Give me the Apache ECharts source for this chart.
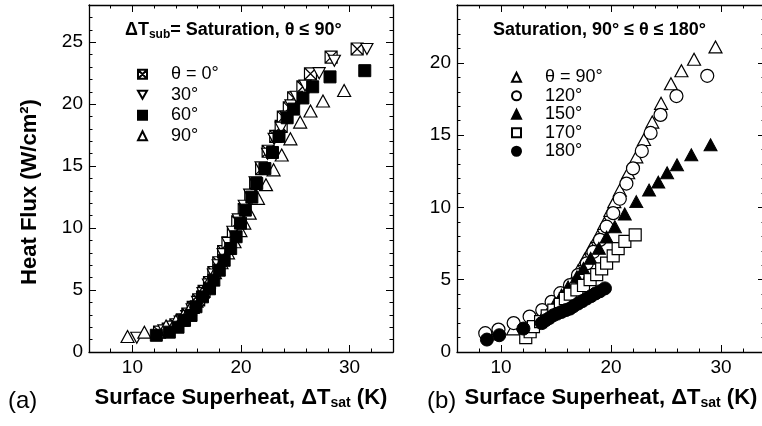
<!DOCTYPE html>
<html>
<head>
<meta charset="utf-8">
<script src="https://cdn.jsdelivr.net/npm/echarts@6/dist/echarts.min.js"></script>
<style>
  html, body { margin: 0; background: #fff; }
  #chart { width: 762px; height: 426px; }
</style>
</head>
<body>
<div id="chart"></div>
<script>
// (a) saturated, theta <= 90 deg  -- [superheat K, heat flux W/cm2]
const a0 = [[12.5,1.6],[13.3,1.85],[14.0,2.2],[14.6,2.6],[15.1,3.05],[15.6,3.6],[16.1,4.2],[16.6,4.9],[17.1,5.6],[17.5,6.4],[17.95,7.2],[18.4,8.1],[18.8,8.8],[19.3,9.5],[19.7,10.5],[20.3,11.5],[20.9,12.6],[21.35,13.6],[21.9,14.8],[22.5,16.2],[23.2,17.4],[23.7,18.2],[23.9,18.95],[24.45,19.7],[24.85,20.5],[25.7,21.4],[26.4,22.45],[28.3,23.8],[30.7,24.45]];
const a30 = [[10.4,1.15],[12.9,1.75],[13.7,2.05],[14.4,2.45],[15.0,2.9],[15.5,3.45],[16.0,4.05],[16.5,4.75],[17.0,5.45],[17.45,6.25],[17.9,7.0],[18.35,7.9],[18.8,8.8],[19.25,9.7],[19.75,10.7],[20.3,11.8],[20.8,12.7],[21.3,13.7],[21.85,14.9],[22.45,16.0],[23.05,17.2],[23.7,18.1],[24.15,19.0],[24.6,19.9],[25.1,20.6],[25.9,21.5],[27.2,22.5],[28.6,23.5],[31.6,24.45]];
const a60 = [[12.2,1.35],[13.4,1.6],[14.2,2.0],[14.8,2.55],[15.4,2.95],[15.85,3.65],[16.45,4.45],[17.1,5.1],[17.5,5.8],[18.0,6.6],[18.45,7.4],[19.05,8.35],[19.55,9.3],[19.95,10.4],[20.4,11.45],[21.0,12.5],[21.45,13.6],[22.2,14.8],[22.9,16.1],[23.5,17.4],[24.25,18.9],[24.85,19.6],[25.7,20.5],[26.6,21.4],[28.2,22.2],[31.4,22.7]];
// 90 deg run, plotted in both panels
const a90 = [[9.55,1.25],[11.1,1.6],[13.1,2.1],[14.0,2.5],[14.7,2.95],[15.3,3.5],[15.9,4.1],[16.45,4.8],[17.0,5.6],[17.6,6.4],[18.2,7.2],[18.8,8.0],[19.4,8.9],[19.95,9.8],[20.3,10.4],[20.8,11.2],[21.56,12.4],[22.3,13.5],[23.0,14.7],[23.75,15.9],[24.55,17.2],[25.45,18.55],[26.4,19.45],[27.55,20.25],[29.5,21.1]];

// (b) saturated, 90 <= theta <= 180 deg
const b120 = [[8.57,1.3],[9.77,1.55],[11.15,2.0],[12.6,2.45],[13.75,2.9],[14.6,3.47],[15.4,4.07],[16.27,4.63],[17.0,5.32],[17.8,6.13],[18.4,6.93],[19.0,7.75],[19.6,8.67],[20.2,9.6],[20.8,10.6],[21.4,11.65],[22.0,12.7],[22.8,13.9],[23.6,15.15],[24.5,16.4],[25.95,17.7],[28.75,19.1]];
const b150 = [[13.7,2.3],[14.3,2.77],[14.9,3.35],[15.5,3.93],[16.1,4.5],[16.9,5.2],[17.5,5.78],[18.15,6.48],[18.9,7.17],[19.6,7.95],[20.35,8.67],[21.25,9.55],[22.3,10.4],[23.46,11.2],[24.3,11.75],[25.1,12.4],[26.0,12.95],[27.3,13.64],[29.05,14.33]];
const b170 = [[12.25,1.0],[12.65,1.4],[12.95,1.75],[13.6,2.1],[14.2,2.5],[14.8,2.9],[15.4,3.3],[15.85,3.7],[16.3,4.0],[16.9,4.3],[17.5,4.6],[18.1,5.0],[18.7,5.35],[19.15,5.75],[19.6,6.15],[20.2,6.65],[20.65,7.15],[21.26,7.65],[22.2,8.1]];
const b180 = [[8.72,0.86],[9.84,1.16],[12.04,1.62],[13.7,2.0],[14.07,2.2],[14.4,2.35],[14.76,2.54],[15.1,2.65],[15.5,2.77],[15.9,2.9],[16.27,3.0],[16.6,3.17],[17.0,3.35],[17.4,3.52],[17.8,3.7],[18.2,3.87],[18.6,4.05],[19.0,4.2],[19.45,4.4]];

const xTicks = [10, 20, 30];
const yTicksA = [0, 5, 10, 15, 20, 25];
const yTicksB = [0, 5, 10, 15, 20];
const legendA = ['θ = 0°', '30°', '60°', '90°'];
const legendB = ['θ = 90°', '120°', '150°', '170°', '180°'];

const FONT = '"Liberation Sans",Arial,sans-serif';
const xName = 'Surface Superheat, ΔT{sub|sat} (K)';

// four axes per side: minor ticks + major ticks/labels, mirrored on the far side
function axisSet(dim, grid, min, max, step, ticks, extra) {
  const near = dim === 'x' ? 'bottom' : 'left';
  const far = dim === 'x' ? 'top' : 'right';
  const base = {
    type: 'value', gridIndex: grid, min: min, max: max, interval: step,
    splitLine: { show: false },
    axisLine: { onZero: false, lineStyle: { color: '#000', width: 1.3 } }
  };
  const minor = pos => Object.assign({}, base, {
    position: pos,
    axisTick: { inside: true, length: 3.5, lineStyle: { color: '#000' } },
    axisLabel: { show: false }
  });
  const major = (pos, lab) => Object.assign({}, base, {
    position: pos,
    axisLine: { show: false, onZero: false },
    axisTick: { inside: true, length: 7, customValues: ticks, lineStyle: { color: '#000' } },
    axisLabel: { show: lab, customValues: ticks, color: '#000', fontFamily: FONT, fontSize: 19, margin: 6 }
  });
  const first = Object.assign(minor(near), extra || {});
  return [first, major(near, true), minor(far), major(far, false)];
}

const nameStyle = {
  color: '#000', fontFamily: FONT, fontWeight: 'bold', fontSize: 22, lineHeight: 24,
  rich: { sub: { fontFamily: FONT, fontWeight: 'bold', fontSize: 14, lineHeight: 14, padding: [11, 0, 0, 0] } }
};
const xNameOpts = { name: xName, nameLocation: 'middle', nameGap: 34, nameTextStyle: nameStyle };

const hollow = { color: '#fff', borderColor: '#000', borderWidth: 1.2, opacity: 1 };
const solid = { color: '#000', borderColor: '#000', borderWidth: 1, opacity: 1 };
const boxX = 'path://M0,0H10V10H0Z M0,0L10,10 M10,0L0,10';
const triDown = 'path://M0,0L10,0L5,8.7Z';

function scatter(name, data, grid, symbol, size, style) {
  return {
    type: 'scatter', name: name, data: data,
    xAxisIndex: grid * 4, yAxisIndex: grid * 4,
    symbol: symbol, symbolSize: size, itemStyle: style,
    emphasis: { disabled: true }
  };
}

function legend(names, left, top, rowH) {
  return {
    data: names, orient: 'vertical', left: left, top: top,
    itemWidth: 9, itemHeight: 9, itemGap: 0, selectedMode: false,
    formatter: n => '{g| }' + n,
    textStyle: { color: '#000', fontFamily: FONT, fontSize: 18, lineHeight: rowH, rich: { g: { width: 19 } } }
  };
}

const chart = echarts.init(document.getElementById('chart'), null, { renderer: 'canvas' });
chart.setOption({
  animation: false,
  backgroundColor: '#fff',
  grid: [
    { left: 89, top: 5, width: 304, height: 347, outerBoundsMode: 'none' },
    { left: 457, top: 5, width: 308, height: 347, outerBoundsMode: 'none' }
  ],
  xAxis: [
    ...axisSet('x', 0, 6, 34, 2, xTicks, xNameOpts),
    ...axisSet('x', 1, 6, 34, 2, xTicks, xNameOpts)
  ],
  yAxis: [
    ...axisSet('y', 0, 0, 28, 1, yTicksA),
    ...axisSet('y', 1, 0, 24, 1, yTicksB)
  ],
  legend: [
    legend(legendA, 132, 59, 20.5),
    legend(legendB, 506, 63, 18.5)
  ],
  series: [
    scatter(legendA[0], a0, 0, boxX, 12, hollow),
    scatter(legendA[1], a30, 0, triDown, [12, 11], hollow),
    scatter(legendA[3], a90, 0, 'triangle', [13, 12], hollow),
    scatter(legendA[2], a60, 0, 'rect', 12, solid),
    scatter(legendB[0], a90, 1, 'triangle', [13, 12], hollow),
    scatter(legendB[1], b120, 1, 'circle', 13, hollow),
    scatter(legendB[2], b150, 1, 'triangle', [13, 12], solid),
    scatter(legendB[3], b170, 1, 'rect', 12, hollow),
    scatter(legendB[4], b180, 1, 'circle', 13, solid)
  ],
  graphic: [
    {
      type: 'text', x: 30, y: 192, rotation: Math.PI / 2,
      style: { text: 'Heat Flux (W/cm²)', fill: '#000', fontFamily: FONT, fontWeight: 'bold', fontSize: 22, align: 'center', verticalAlign: 'middle' }
    },
    {
      type: 'text', x: 125, y: 30,
      style: {
        text: 'ΔT{s|sub}= Saturation, θ ≤ 90°', fill: '#000', fontFamily: FONT, fontWeight: 'bold', fontSize: 18,
        verticalAlign: 'middle', lineHeight: 22,
        rich: { s: { fontFamily: FONT, fontWeight: 'bold', fontSize: 12, lineHeight: 12, padding: [10, 0, 0, 0] } }
      }
    },
    {
      type: 'text', x: 493, y: 30,
      style: { text: 'Saturation, 90° ≤ θ ≤ 180°', fill: '#000', fontFamily: FONT, fontWeight: 'bold', fontSize: 18, verticalAlign: 'middle' }
    },
    { type: 'text', x: 8, y: 401, style: { text: '(a)', fill: '#000', fontFamily: FONT, fontSize: 24, verticalAlign: 'middle' } },
    { type: 'text', x: 427, y: 401, style: { text: '(b)', fill: '#000', fontFamily: FONT, fontSize: 24, verticalAlign: 'middle' } }
  ]
});
</script>
</body>
</html>
